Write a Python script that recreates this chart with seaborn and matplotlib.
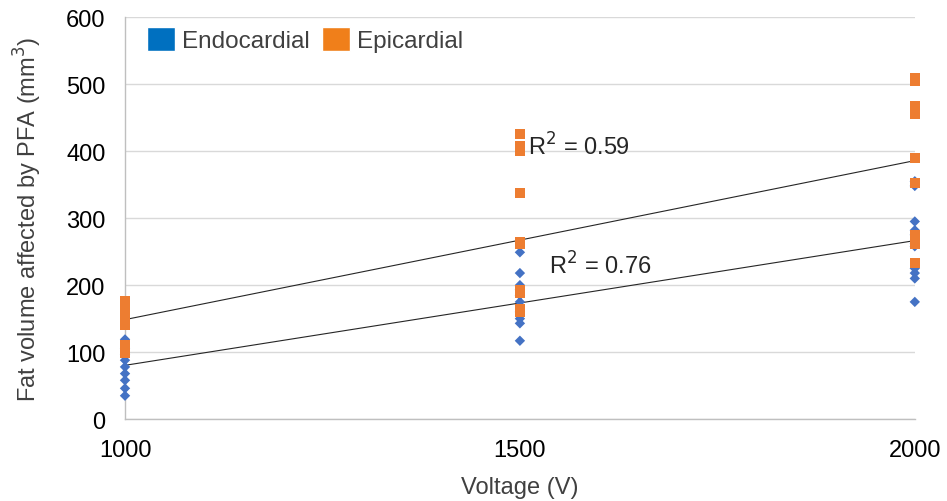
import numpy as np
import pandas as pd
import seaborn as sns
from matplotlib import pyplot as plt
from matplotlib.patches import Patch

# values
voltages = [1000, 1500, 2000]
endo_1000 = [35, 46, 58, 68, 78, 88, 97, 106, 119]
endo_1500 = [117, 143, 150, 160, 175, 185, 193, 200, 218, 249]
endo_2000 = [175, 210, 218, 225, 258, 262, 275, 282, 295, 348, 355]
epi_1000 = [99, 104, 110, 140, 148, 157, 165, 172, 177]
epi_1500 = [160, 165, 188, 192, 262, 265, 337, 400, 408, 425]
epi_2000 = [233, 262, 268, 275, 352, 390, 455, 462, 468, 505, 509]
r2_labels = ["R$^2$ = 0.59", "R$^2$ = 0.76"]

endo_col = "#4472C4"
epi_col = "#ED7D31"


def build_frame(groups, name):
    rows = []
    for v, vals in zip(voltages, groups):
        for val in vals:
            rows.append({"Voltage": v, "Fat": val, "Layer": name})
    return pd.DataFrame(rows)


endo = build_frame([endo_1000, endo_1500, endo_2000], "Endocardial")
epi = build_frame([epi_1000, epi_1500, epi_2000], "Epicardial")

sns.set_style("white")
plt.rcParams["font.family"] = ["Liberation Sans", "DejaVu Sans"]

fig, ax = plt.subplots(figsize=(9.47, 5.02), dpi=100)
fig.subplots_adjust(left=0.132, right=0.966, bottom=0.163, top=0.964)

ax.yaxis.grid(True, color="#D9D9D9", linewidth=1)
ax.set_axisbelow(True)

# trend lines
for df in (epi, endo):
    k, b = np.polyfit(df["Voltage"], df["Fat"], 1)
    xs = np.array([1000, 2000])
    ax.plot(xs, k * xs + b, color="#262626", linewidth=0.8, zorder=2)

sns.scatterplot(data=endo, x="Voltage", y="Fat", marker="D", s=28, color=endo_col,
                edgecolor="none", ax=ax, zorder=3, clip_on=False)
sns.scatterplot(data=epi, x="Voltage", y="Fat", marker="s", s=52, color=epi_col,
                edgecolor="none", ax=ax, zorder=4, clip_on=False)

ax.text(1510, 408, r2_labels[0], fontsize=17, color="#262626", va="center")
ax.text(1537, 230, r2_labels[1], fontsize=17, color="#262626", va="center")

ax.set_xlim(1000, 2000)
ax.set_ylim(0, 600)
ax.set_xticks(voltages)
ax.set_yticks(range(0, 601, 100))
ax.tick_params(axis="both", labelsize=17, colors="#000000", length=0)
ax.tick_params(axis="y", pad=14)
ax.tick_params(axis="x", pad=14)
for s in ("top", "right"):
    ax.spines[s].set_visible(False)
for s in ("left", "bottom"):
    ax.spines[s].set_color("#BFBFBF")
    ax.spines[s].set_linewidth(1)

ax.set_xlabel("Voltage (V)", fontsize=17, color="#404040", labelpad=11)
ax.set_ylabel("Fat volume affected by PFA (mm$^3$)", fontsize=17, color="#404040", labelpad=16)

handles = [Patch(facecolor="#0070C0", label="Endocardial"),
           Patch(facecolor="#F07F1A", label="Epicardial")]
ax.legend(handles=handles, loc="upper left", bbox_to_anchor=(0.0, 1.03), ncol=2, frameon=False,
          fontsize=17.5, handlelength=1.15, handleheight=1.15, handletextpad=0.3,
          columnspacing=0.5, labelcolor="#404040")

fig.savefig("out.png", dpi=100)
